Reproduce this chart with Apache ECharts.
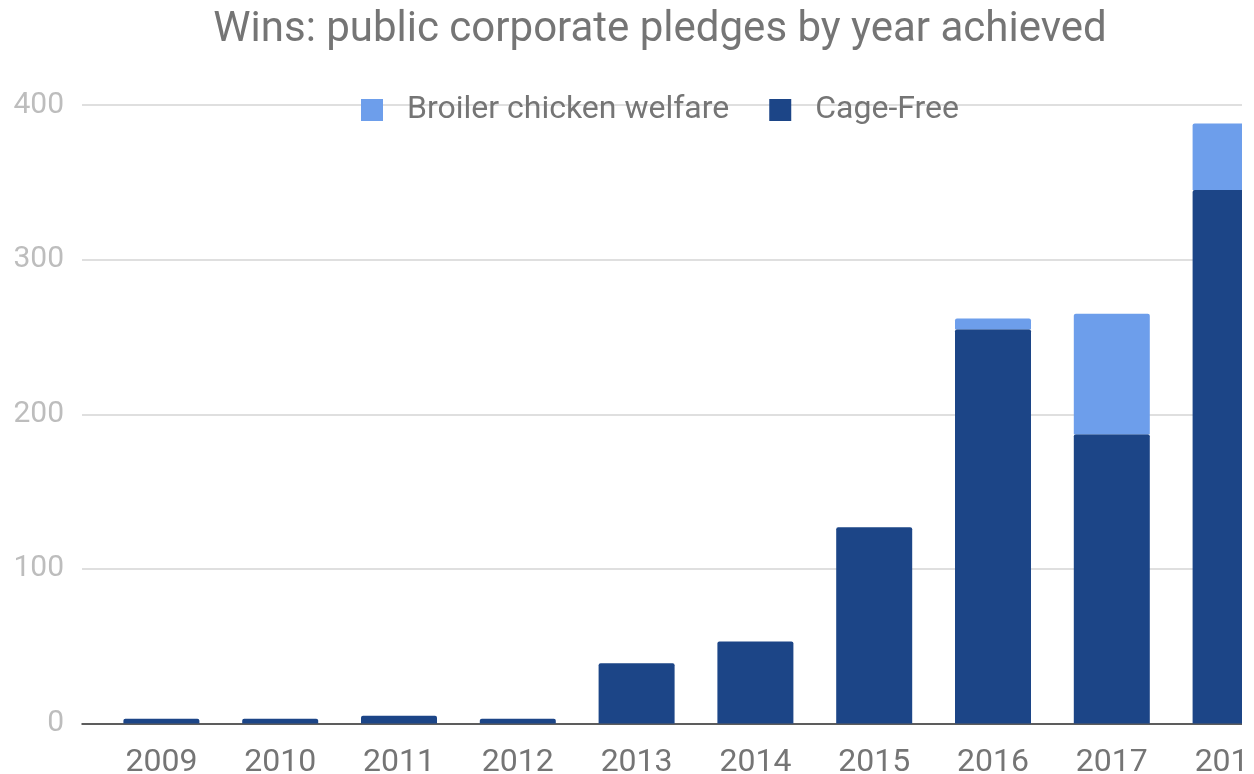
<!DOCTYPE html>
<html>
<head>
<meta charset="utf-8">
<script src="https://cdn.jsdelivr.net/npm/echarts@6/dist/echarts.min.js"></script>
<style>
html, body { margin: 0; padding: 0; background: #fff; overflow: hidden; }
#clip { position: absolute; left: 0; top: 0; width: 1242px; height: 774px; overflow: hidden; }
#chart { position: absolute; left: 0; top: 0; width: 1320px; height: 774px; }
</style>
</head>
<body>
<div id="clip"><div id="chart"></div></div>
<script>
const titleText = 'Wins: public corporate pledges by year achieved';
const years = ['2009', '2010', '2011', '2012', '2013', '2014', '2015', '2016', '2017', '2018'];
const cageFree = [3, 3, 5, 3, 39, 53, 127, 255, 187, 345];
const broiler = [0, 0, 0, 0, 0, 0, 0, 7, 78, 43];
const yTicks = [0, 100, 200, 300, 400];

const chart = echarts.init(document.getElementById('chart'), null, { renderer: 'canvas' });
const font = 'Roboto';
chart.setOption({
  animation: false,
  backgroundColor: '#ffffff',
  title: {
    text: titleText,
    left: 'center',
    top: 4,
    textStyle: { fontFamily: font, fontSize: 42, fontWeight: 'normal', color: '#757575' }
  },
  legend: {
    data: ['Broiler chicken welfare', 'Cage-Free'],
    left: 'center',
    top: 89,
    icon: 'rect',
    itemWidth: 22,
    itemHeight: 22,
    itemGap: 40,
    textStyle: { fontFamily: font, fontSize: 32, color: '#757575', padding: [0, 0, 0, 19] }
  },
  grid: [
    { left: 82, right: 30, top: 105, bottom: 50.5, containLabel: false, outerBoundsMode: 'none' },
    { left: 102, right: 30, top: 105, bottom: 50.5, containLabel: false, outerBoundsMode: 'none' }
  ],
  xAxis: [
    {
      gridIndex: 0, type: 'value', min: 0, max: 1,
      axisLine: { show: true, onZero: false, lineStyle: { color: '#333333', width: 1.5 } },
      axisTick: { show: false }, axisLabel: { show: false }, splitLine: { show: false }
    },
    {
      gridIndex: 1, type: 'category', data: years,
      axisLine: { show: false }, axisTick: { show: false }, splitLine: { show: false },
      axisLabel: { fontFamily: font, fontSize: 32, color: '#757575', margin: 23 }
    }
  ],
  yAxis: [
    {
      gridIndex: 0, type: 'value', min: 0, max: 400, interval: 100,
      axisLine: { show: false }, axisTick: { show: false },
      axisLabel: { fontFamily: font, fontSize: 30, color: '#bdbdbd', margin: 18 },
      splitLine: { lineStyle: { color: '#d4d4d4', width: 1.5 } }
    },
    {
      gridIndex: 1, type: 'value', min: 0, max: 400, interval: 100, show: false
    }
  ],
  series: [
    {
      name: 'Cage-Free', type: 'bar', stack: 'total', xAxisIndex: 1, yAxisIndex: 1,
      barWidth: 76, data: cageFree,
      itemStyle: { color: '#1c4587', borderRadius: [2, 2, 0, 0] }
    },
    {
      name: 'Broiler chicken welfare', type: 'bar', stack: 'total', xAxisIndex: 1, yAxisIndex: 1,
      barWidth: 76, data: broiler,
      itemStyle: { color: '#6d9eeb', borderRadius: [2, 2, 0, 0] }
    }
  ]
});
</script>
</body>
</html>
